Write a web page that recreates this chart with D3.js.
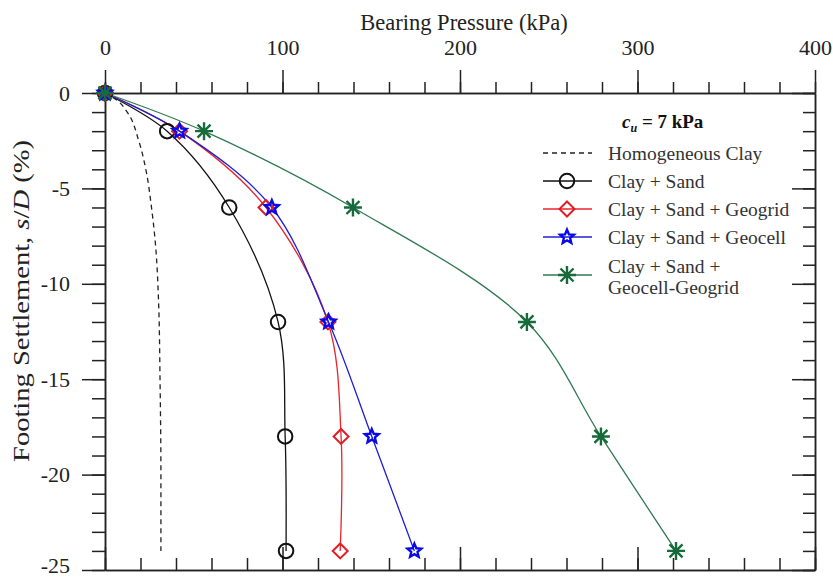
<!DOCTYPE html>
<html lang="en">
<head>
	<meta charset="UTF-8">
	<title>bearing pressure vs settlement</title>
	<script src="https://cdn.jsdelivr.net/npm/d3@7"></script>
	<style>
		* {
			margin: 0;
			padding: 0;
		}
		body {
			background: #fff;
		}
		svg {
			display: block;
		}
		svg text {
			font-family: "Liberation Serif", "Times New Roman", serif;
		}
	</style>
</head>
<body>
	<script>
		// settlement levels (%)
		var settlement = [0, -2, -6, -12, -18, -24];

		// bearing pressure (kPa)
		var claySand = [0, 35, 70, 97.5, 101.5, 102];
		var geogrid = [0, 42, 90.7, 125.6, 133, 132.5];
		var geocell = [0, 42, 94, 126, 150.3, 174.3];
		var geocellGeogrid = [0, 55.8, 139.7, 237.7, 279.4, 321.7];

		// homogeneous clay, dashed line only
		var homoSettle = [0, -0.4, -1, -2.5, -4, -6, -8, -11, -15, -20, -24];
		var homoPressure = [0, 7, 12.5, 19, 23, 26.2, 28.5, 30.2, 31, 31.5, 31.5];

		var xTicks = [0, 100, 200, 300, 400];
		var yTicks = [0, -5, -10, -15, -20, -25];

		var width = 833, height = 579;
		var plot = {left: 105, right: 815, top: 93, bottom: 570};
		var serif = '"Liberation Serif", "Times New Roman", serif';

		var svg = d3.select('body').append('svg').attr('width', width).attr('height', height);

		var x = d3.scaleLinear().domain([0, 400]).range([plot.left, plot.right]);
		var y = d3.scaleLinear().domain([-25, 0]).range([plot.bottom, plot.top]);

		var axisColor = '#222';
		var xMinor = d3.range(0, 401, 20);
		var yMinor = d3.range(-25, 0.5, 1);
		var fmt = function (d) {return String(d)};

		function styleAxis(g) {
			g.attr('font-family', serif).attr('font-size', 22);
			g.selectAll('path, line').attr('stroke', axisColor).attr('stroke-width', 1.5);
			g.selectAll('text').attr('fill', '#222');
		}

		// minor ticks first
		svg.append('g').attr('transform', 'translate(0,' + plot.top + ')')
			.call(d3.axisTop(x).tickValues(xMinor).tickSize(11).tickSizeOuter(0).tickFormat(''))
			.call(styleAxis);
		svg.append('g').attr('transform', 'translate(0,' + plot.bottom + ')')
			.call(d3.axisBottom(x).tickValues(xMinor).tickSize(-12).tickSizeOuter(0).tickFormat(''))
			.call(styleAxis);
		svg.append('g').attr('transform', 'translate(' + plot.left + ',0)')
			.call(d3.axisLeft(y).tickValues(yMinor).tickSize(13).tickSizeOuter(0).tickFormat(''))
			.call(styleAxis);
		svg.append('g').attr('transform', 'translate(' + plot.right + ',0)')
			.call(d3.axisRight(y).tickValues(yMinor).tickSize(-12).tickSizeOuter(0).tickFormat(''))
			.call(styleAxis);

		// major ticks
		svg.append('g').attr('transform', 'translate(0,' + plot.top + ')')
			.call(d3.axisTop(x).tickValues(xTicks).tickSize(23).tickSizeOuter(0).tickPadding(15).tickFormat(fmt))
			.call(styleAxis);
		svg.append('g').attr('transform', 'translate(0,' + plot.bottom + ')')
			.call(d3.axisBottom(x).tickValues(xTicks).tickSize(-23).tickSizeOuter(0).tickFormat(''))
			.call(styleAxis);
		var yAxisG = svg.append('g').attr('transform', 'translate(' + plot.left + ',0)')
			.call(d3.axisLeft(y).tickValues(yTicks).tickSize(23).tickSizeOuter(0).tickPadding(12).tickFormat(fmt))
			.call(styleAxis);
		// the lowest label sits on the bottom edge; keep it inside the frame
		yAxisG.selectAll('.tick text').filter(function (d) {return d === -25}).attr('dy', '0.12em');
		svg.append('g').attr('transform', 'translate(' + plot.right + ',0)')
			.call(d3.axisRight(y).tickValues(yTicks).tickSize(-23).tickSizeOuter(0).tickFormat(''))
			.call(styleAxis);

		// axis titles
		svg.append('text')
			.attr('x', 464).attr('y', 30)
			.attr('text-anchor', 'middle')
			.attr('font-family', serif)
			.attr('font-size', 22.5).attr('fill', '#222')
			.text('Bearing Pressure (kPa)');

		var yTitle = svg.append('text')
			.attr('transform', 'translate(29,301) rotate(-90)')
			.attr('text-anchor', 'middle')
			.attr('textLength', 322).attr('lengthAdjust', 'spacingAndGlyphs')
			.attr('font-family', serif)
			.attr('font-size', 23).attr('fill', '#222');
		yTitle.append('tspan').text('Footing Settlement, ');
		yTitle.append('tspan').style('font-style', 'italic').text('s');
		yTitle.append('tspan').text('/');
		yTitle.append('tspan').style('font-style', 'italic').text('D');
		yTitle.append('tspan').text(' (%)');

		// series
		var series = [
			{name: 'Clay + Sand', values: claySand, color: '#111', marker: 'circle'},
			{name: 'Clay + Sand + Geogrid', values: geogrid, color: '#e8242c', marker: 'diamond'},
			{name: 'Clay + Sand + Geocell', values: geocell, color: '#1f1fd6', marker: 'star'},
			{name: 'Clay + Sand + Geocell-Geogrid', values: geocellGeogrid, color: '#2f7a50', marker: 'asterisk'}
		];
		var markerColor = {circle: '#111', diamond: '#e01e26', star: '#0a0ae8', asterisk: '#176a3a'};

		var line = d3.line()
			.x(function (d) {return x(d[0])})
			.y(function (d) {return y(d[1])})
			.curve(d3.curveCatmullRom.alpha(0.5));

		var homoLine = d3.line()
			.x(function (d) {return x(d[0])})
			.y(function (d) {return y(d[1])})
			.curve(d3.curveMonotoneY);

		var homo = homoPressure.map(function (p, i) {return [p, homoSettle[i]]});
		svg.append('path')
			.attr('d', homoLine(homo))
			.attr('fill', 'none').attr('stroke', '#222')
			.attr('stroke-width', 1.3).attr('stroke-dasharray', '5,4');

		function markerPath(type) {
			if (type === 'circle') return d3.symbol().type(d3.symbolCircle).size(165)();
			if (type === 'diamond') return 'M0,-7.5L7.5,0L0,7.5L-7.5,0Z';
			if (type === 'star') {
				var pts = [];
				for (var k = 0; k < 10; k++) {
					var r = k % 2 ? 3.3 : 7.3;
					var a = -Math.PI / 2 + k * Math.PI / 5;
					pts.push([r * Math.cos(a), r * Math.sin(a)]);
				}
				return 'M' + pts.join('L') + 'Z';
			}
			// asterisk: 4 crossing strokes
			var s = 9, t = 6.5;
			return 'M0,' + (-s) + 'V' + s + 'M' + (-s) + ',0H' + s +
				'M' + (-t) + ',' + (-t) + 'L' + t + ',' + t + 'M' + (-t) + ',' + t + 'L' + t + ',' + (-t);
		}
		var markerWidth = {circle: 2, diamond: 2, star: 2.4, asterisk: 2.4};

		series.forEach(function (s) {
			var pts = s.values.map(function (v, i) {return [v, settlement[i]]});
			svg.append('path')
				.attr('d', line(pts))
				.attr('fill', 'none').attr('stroke', s.color).attr('stroke-width', 1.3);
		});

		series.forEach(function (s) {
			var pts = s.values.map(function (v, i) {return [v, settlement[i]]});
			svg.selectAll('.m-' + s.marker)
				.data(pts)
				.enter()
				.append('path')
				.classed('m-' + s.marker, true)
				.attr('transform', function (d) {return 'translate(' + x(d[0]) + ',' + y(d[1]) + ')'})
				.attr('d', markerPath(s.marker))
				.attr('fill', 'none')
				.attr('stroke', markerColor[s.marker])
				.attr('stroke-width', markerWidth[s.marker]);
		});

		// legend
		var lg = svg.append('g').attr('font-family', serif);
		var lt = lg.append('text').attr('x', 622).attr('y', 128)
			.attr('font-size', 19).attr('font-weight', 'bold').attr('fill', '#111');
		lt.append('tspan').style('font-style', 'italic').text('c');
		lt.append('tspan').style('font-style', 'italic').attr('font-size', 12).attr('dy', 4).text('u');
		lt.append('tspan').attr('dy', -4).text(' = 7 kPa');

		var rows = [
			{label: ['Homogeneous Clay'], y: 153, dashed: true},
			{label: [series[0].name], y: 181, s: series[0]},
			{label: [series[1].name], y: 209, s: series[1]},
			{label: [series[2].name], y: 237, s: series[2]},
			{label: ['Clay + Sand +', 'Geocell-Geogrid'], y: 275, s: series[3]}
		];

		rows.forEach(function (r) {
			lg.append('line')
				.attr('x1', 543).attr('x2', 592).attr('y1', r.y).attr('y2', r.y)
				.attr('stroke', r.dashed ? '#222' : r.s.color)
				.attr('stroke-width', 1.3)
				.attr('stroke-dasharray', r.dashed ? '5,4' : null);
			if (r.s) {
				lg.append('path')
					.attr('transform', 'translate(567,' + r.y + ')')
					.attr('d', markerPath(r.s.marker))
					.attr('fill', 'none')
					.attr('stroke', markerColor[r.s.marker])
					.attr('stroke-width', markerWidth[r.s.marker]);
			}
			var t = lg.append('text').attr('x', 608).attr('y', r.y + 6.5)
				.attr('font-size', 19.5).attr('fill', '#333');
			if (r.label.length === 1) {
				t.text(r.label[0]);
			} else {
				t.attr('y', r.y - 2.5);
				t.append('tspan').attr('x', 608).text(r.label[0]);
				t.append('tspan').attr('x', 608).attr('dy', 21).text(r.label[1]);
			}
		});
	</script>
</body>
</html>
